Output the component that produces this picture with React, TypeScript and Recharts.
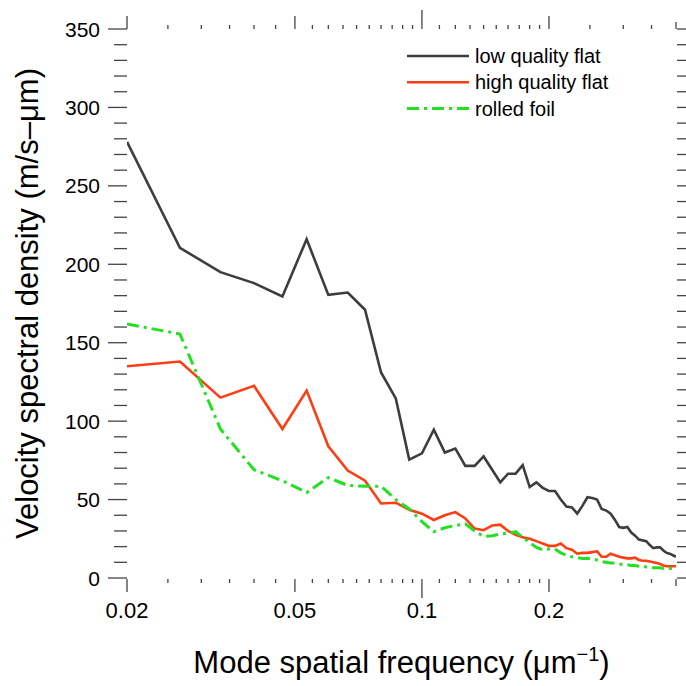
import { LineChart, Line, XAxis, YAxis } from "recharts"

// Mode spatial frequency (1/um) sampled every 1/150
const FREQ = [
  0.02, 0.0267, 0.0333, 0.04, 0.0467, 0.0533, 0.06, 0.0667, 0.0733, 0.08,
  0.0867, 0.0933, 0.1, 0.1067, 0.1133, 0.12, 0.1267, 0.1333, 0.14, 0.1467,
  0.1533, 0.16, 0.1667, 0.1733, 0.18, 0.1867, 0.1933, 0.2, 0.2067, 0.2133,
  0.22, 0.2267, 0.2333, 0.24, 0.2467, 0.2533, 0.26, 0.2667, 0.2733, 0.28,
  0.2867, 0.2933, 0.3, 0.3067, 0.3133, 0.32, 0.3267, 0.3333, 0.34, 0.3467,
  0.3533, 0.36, 0.3667, 0.3733, 0.38, 0.3867, 0.3933, 0.4,
]

const LOW_QUALITY = [
  278, 210.5, 195, 188, 179.5, 216, 180.5, 182, 171, 131,
  114.5, 75.5, 79.5, 94.5, 80, 82.5, 71.5, 71.5, 77.5, 69,
  61, 66.5, 66.5, 72, 58, 61, 57.5, 55.5, 55.5, 50,
  45.5, 45, 41, 46, 51.5, 51, 50, 44, 43, 41,
  37, 32.5, 32, 32.5, 29, 27, 24.5, 24, 23.5, 21,
  19, 19.5, 19.5, 17.5, 16, 15.5, 14.5, 13.5,
]

const HIGH_QUALITY = [
  135, 138, 115, 122.5, 95, 119.5, 84, 68.5, 62, 47.5,
  48, 43.5, 41, 37, 40, 42, 38, 31.5, 30.5, 33.5,
  34, 30, 27.5, 26, 25, 23.5, 22, 20.5, 20.5, 22,
  19, 18, 15.5, 16, 16, 16.5, 17, 13.5, 13.5, 15.5,
  14.5, 13.5, 13, 12.5, 12.5, 13, 11.5, 11, 11, 10.5,
  10, 9.5, 9, 8, 7.5, 7.5, 7.5, 7.5,
]

const ROLLED_FOIL = [
  162, 155.5, 95, 69, 62, 54.5, 64, 59, 58.5, 58.5,
  50, 44, 36, 29.5, 32, 33.5, 34.5, 30, 26.5, 27,
  28, 28.5, 29.5, 26, 22.5, 19.5, 18, 18.5, 18.5, 16,
  14.5, 13.5, 13, 12.5, 12.5, 12, 11.5, 10.5, 10, 9.5,
  9.5, 9, 8.5, 8.5, 8, 8, 7.5, 7.5, 7, 7,
  6.5, 6.5, 6.5, 6, 6, 6, 6, 6,
]

// tick marks
const X_TICKS = [
  0.02, 0.025, 0.03, 0.035, 0.04, 0.045, 0.05, 0.055, 0.06, 0.065, 0.07,
  0.075, 0.08, 0.085, 0.09, 0.095, 0.1, 0.11, 0.12, 0.13, 0.14, 0.15, 0.16,
  0.17, 0.18, 0.19, 0.2, 0.25, 0.3, 0.35, 0.4,
]
const X_LABELS = [0.02, 0.05, 0.1, 0.2]
const Y_LABELS = [0, 50, 100, 150, 200, 250, 300, 350]
const Y_TICKS = Array.from({ length: 36 }, (_, i) => i * 10)

const SERIES = [
  { key: "low", name: "low quality flat", values: LOW_QUALITY, color: "#3d3d3d", dash: undefined, width: 2.6 },
  { key: "high", name: "high quality flat", values: HIGH_QUALITY, color: "#ff3d12", dash: undefined, width: 2.6 },
  { key: "foil", name: "rolled foil", values: ROLLED_FOIL, color: "#22e022", dash: "12 5 3 5", width: 3 },
]

const data = FREQ.map((f, i) => ({
  f,
  low: LOW_QUALITY[i],
  high: HIGH_QUALITY[i],
  foil: ROLLED_FOIL[i],
}))

const FONT = "'Liberation Sans', Arial, Helvetica, sans-serif"
const TICK_COLOR = "#444"

function xTickLen(v: number) {
  if (Math.abs(v - 0.1) < 1e-6) return 19
  if (X_LABELS.some((l) => Math.abs(l - v) < 1e-6)) return 13
  if (Math.abs(v - 0.4) < 1e-6) return 7
  return 4
}

function BottomTick(props: any) {
  const { x, y, payload } = props
  const v = payload.value
  const len = xTickLen(v)
  const labeled = X_LABELS.some((l) => Math.abs(l - v) < 1e-6)
  return (
    <g>
      <line x1={x} x2={x} y1={y + 1} y2={y + 1 + len} stroke={TICK_COLOR} strokeWidth={1.3} />
      {labeled && (
        <text x={x} y={y + 40} textAnchor="middle" fontSize={22} fontFamily={FONT} fill="#000">
          {String(v)}
        </text>
      )}
    </g>
  )
}

function TopTick(props: any) {
  const { x, y, payload } = props
  const len = xTickLen(payload.value)
  return <line x1={x} x2={x} y1={y} y2={y - len} stroke={TICK_COLOR} strokeWidth={1.3} />
}

function LeftTick(props: any) {
  const { x, y, payload } = props
  const v = payload.value
  const major = Y_LABELS.includes(v)
  const len = major ? 19 : 13
  return (
    <g>
      <line x1={x} x2={x - len} y1={y} y2={y} stroke={TICK_COLOR} strokeWidth={1.3} />
      {major && (
        <text x={x - 27} y={y + 7.5} textAnchor="end" fontSize={21} fontFamily={FONT} fill="#000">
          {v}
        </text>
      )}
    </g>
  )
}

function RightTick(props: any) {
  const { x, y, payload } = props
  const len = Y_LABELS.includes(payload.value) ? 19 : 13
  return <line x1={x + 1} x2={x + 1 + len} y1={y} y2={y} stroke={TICK_COLOR} strokeWidth={1.3} />
}

function XTitle(props: any) {
  const { viewBox } = props
  const cx = viewBox.x + viewBox.width / 2
  return (
    <text x={cx} y={viewBox.y + 95} textAnchor="middle" fontSize={31} fontFamily={FONT} fill="#000">
      Mode spatial frequency (μm
      <tspan dy={-12} fontSize={20}>−1</tspan>
      <tspan dy={12}>)</tspan>
    </text>
  )
}

function YTitle(props: any) {
  const { viewBox } = props
  const cy = viewBox.y + viewBox.height / 2
  const cx = 38
  return (
    <text
      x={cx}
      y={cy}
      transform={`rotate(-90, ${cx}, ${cy})`}
      textAnchor="middle"
      fontSize={31}
      fontFamily={FONT}
      fill="#000"
    >
      Velocity spectral density (m/s–μm)
    </text>
  )
}

function LegendBox() {
  return (
    <g>
      {SERIES.map((s, i) => (
        <g key={s.key}>
          <line
            x1={407}
            x2={469}
            y1={56 + i * 26.3}
            y2={56 + i * 26.3}
            stroke={s.color}
            strokeWidth={s.width}
            strokeDasharray={s.dash}
          />
          <text x={475} y={56 + i * 26.3 + 7} fontSize={20} fontFamily={FONT} fill="#000">
            {s.name}
          </text>
        </g>
      ))}
    </g>
  )
}

export default function App() {
  return (
    <div style={{ position: "absolute", left: 0, top: 0, width: 686, height: 686, background: "#fff" }}>
      <LineChart width={686} height={686} data={data} margin={{ top: 0, right: 0, left: 67, bottom: 0 }}>
        <XAxis
          dataKey="f"
          type="number"
          scale="log"
          domain={[0.02, 0.4]}
          allowDataOverflow
          ticks={X_TICKS}
          interval={0}
          height={108}
          tickSize={0}
          tickMargin={0}
          axisLine={false}
          tickLine={false}
          tick={<BottomTick />}
          label={<XTitle />}
        />
        <XAxis
          xAxisId="top"
          orientation="top"
          dataKey="f"
          type="number"
          scale="log"
          domain={[0.02, 0.4]}
          allowDataOverflow
          ticks={X_TICKS}
          interval={0}
          height={29}
          tickSize={0}
          tickMargin={0}
          axisLine={false}
          tickLine={false}
          tick={<TopTick />}
        />
        <YAxis
          type="number"
          domain={[0, 350]}
          allowDataOverflow
          ticks={Y_TICKS}
          interval={0}
          width={60}
          tickSize={0}
          tickMargin={0}
          axisLine={false}
          tickLine={false}
          tick={<LeftTick />}
          label={<YTitle />}
        />
        <YAxis
          yAxisId="right"
          orientation="right"
          type="number"
          domain={[0, 350]}
          allowDataOverflow
          ticks={Y_TICKS}
          interval={0}
          width={10}
          tickSize={0}
          tickMargin={0}
          axisLine={false}
          tickLine={false}
          tick={<RightTick />}
        />
        {SERIES.map((s) => (
          <Line
            key={s.key}
            dataKey={s.key}
            name={s.name}
            type="linear"
            stroke={s.color}
            strokeWidth={s.width}
            strokeDasharray={s.dash}
            dot={false}
            activeDot={false}
            isAnimationActive={false}
          />
        ))}
        <LegendBox />
      </LineChart>
    </div>
  )
}
